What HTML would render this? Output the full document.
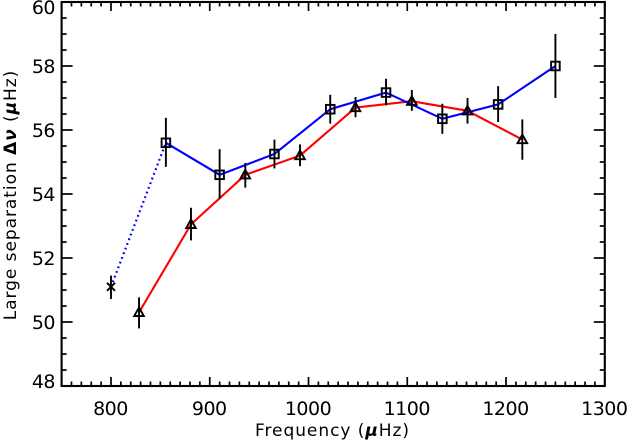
<!DOCTYPE html>
<html>
<head>
<meta charset="utf-8">
<title>Large separation vs frequency</title>
<style>
html,body{margin:0;padding:0;background:#fff;width:627px;height:442px;overflow:hidden}
svg{display:block}
text{font-family:"DejaVu Sans","Liberation Sans",sans-serif;fill:#000}
</style>
</head>
<body>
<svg id="chart" width="627" height="442" viewBox="0 0 627 442" xmlns="http://www.w3.org/2000/svg">
<text x="332.5" y="436" font-size="17" text-anchor="middle" letter-spacing="0.95">Frequency (<tspan font-weight="bold" font-style="italic">μ</tspan>Hz)</text>
<text transform="translate(16,195) rotate(-90)" font-size="17" text-anchor="middle" letter-spacing="0.95">Large separation <tspan font-weight="bold">Δ</tspan><tspan font-weight="bold" font-style="italic">ν</tspan> (<tspan font-weight="bold" font-style="italic">μ</tspan>Hz)</text>
</svg>
<script>
var xTicks = [800, 900, 1000, 1100, 1200, 1300];
var yTicks = [48, 50, 52, 54, 56, 58, 60];

var squareFreq = [855.6, 910, 965.5, 1022, 1078.5, 1135.5, 1192, 1250];
var squareVal = [55.6, 54.6, 55.25, 56.65, 57.17, 56.35, 56.8, 58.0];
var squareErrLow = [54.85, 53.85, 54.8, 56.2, 56.77, 55.88, 56.25, 57.0];
var squareErrHigh = [56.38, 55.4, 55.7, 57.1, 57.6, 56.82, 57.37, 59.0];

var triangleFreq = [828.4, 881, 936, 991.4, 1047.6, 1104.6, 1161, 1216.5];
var triangleVal = [50.3, 53.05, 54.6, 55.2, 56.7, 56.9, 56.6, 55.7];
var triangleErrLow = [49.8, 52.55, 54.2, 54.87, 56.4, 56.6, 56.2, 55.07];
var triangleErrHigh = [50.77, 53.57, 54.97, 55.55, 57.03, 57.25, 57.0, 56.33];

var crossFreq = [800];
var crossVal = [51.1];
var crossErrLow = [50.72];
var crossErrHigh = [51.45];

var svg = document.getElementById('chart');
var NS = 'http://www.w3.org/2000/svg';
var L = 61.6, R = 604.8, T = 2, B = 386;

function X(v) { return L + (v - 750) * (R - L) / 550; }
function Y(v) { return B - (v - 48) * (B - T) / 12; }

function make(tag, attrs, parent) {
  var el = document.createElementNS(NS, tag);
  for (var k in attrs) { el.setAttribute(k, attrs[k]); }
  (parent || svg).appendChild(el);
  return el;
}
function seg(x1, y1, x2, y2, w, parent) {
  return make('line', {x1: x1, y1: y1, x2: x2, y2: y2, stroke: '#000', 'stroke-width': w}, parent);
}
function polyPoints(xs, ys) {
  return xs.map(function (v, i) { return X(v) + ',' + Y(ys[i]); }).join(' ');
}

// Frame
var frame = make('rect', {x: L, y: T, width: R - L, height: B - T, fill: 'none', stroke: '#000', 'stroke-width': 2.1});



// X ticks
var xAxisGroup = make('g', {});


for (var f = 750; f <= 1300; f += 10) {
  var isMajorX = f % 100 === 0;
  var lenX = isMajorX ? 9 : 4.5;
  seg(X(f), B, X(f), B - lenX, 1.7, xAxisGroup);
  seg(X(f), T, X(f), T + lenX, 1.7, xAxisGroup);
}
xTicks.forEach(function (t) {
  var lab = make('text', {x: X(t) - 0.5, y: 415, 'font-size': 19, 'letter-spacing': -0.5, 'text-anchor': 'middle'});
  lab.textContent = t;
  
  
});

// Y ticks
var yAxisGroup = make('g', {});


for (var g = 48; g <= 60; g += 0.5) {
  var isMajorY = g % 2 === 0;
  var lenY = isMajorY ? 11 : 5;
  seg(L, Y(g), L + lenY, Y(g), 1.7, yAxisGroup);
  seg(R, Y(g), R - lenY, Y(g), 1.7, yAxisGroup);
}
yTicks.forEach(function (t) {
  var lab = make('text', {x: 55, y: Y(t) + 7, 'font-size': 19, 'letter-spacing': -0.5, 'text-anchor': 'end'});
  if (t === 60) { lab.setAttribute('y', 14); }
  if (t === 48) { lab.setAttribute('y', 388); }
  lab.textContent = t;
  
  
});

// Series lines
var dotted = make('line', {x1: X(crossFreq[0]), y1: Y(crossVal[0]), x2: X(squareFreq[0]), y2: Y(squareVal[0]), stroke: '#0000ff', 'stroke-width': 2.2, 'stroke-dasharray': '1.8 3.2'});



var redLine = make('polyline', {points: polyPoints(triangleFreq, triangleVal), fill: 'none', stroke: '#ff0000', 'stroke-width': 2.1});



var blueLine = make('polyline', {points: polyPoints(squareFreq, squareVal), fill: 'none', stroke: '#0000ff', 'stroke-width': 2.1});



// Error bars and markers
squareFreq.forEach(function (v, i) {
  var grp = make('g', {});
  
  
  seg(X(v), Y(squareErrLow[i]), X(v), Y(squareErrHigh[i]), 1.9, grp);
  make('rect', {x: X(v) - 4.3, y: Y(squareVal[i]) - 4.3, width: 8.6, height: 8.6, fill: 'none', stroke: '#000', 'stroke-width': 1.9}, grp);
});

triangleFreq.forEach(function (v, i) {
  var grp = make('g', {});
  
  
  var cx = X(v), cy = Y(triangleVal[i]);
  seg(cx, Y(triangleErrLow[i]), cx, Y(triangleErrHigh[i]), 1.9, grp);
  make('polygon', {points: (cx - 4.8) + ',' + (cy + 3.6) + ' ' + (cx + 4.8) + ',' + (cy + 3.6) + ' ' + cx + ',' + (cy - 5), fill: 'none', stroke: '#000', 'stroke-width': 1.9}, grp);
});

crossFreq.forEach(function (v, i) {
  var grp = make('g', {});
  
  
  var cx = X(v), cy = Y(crossVal[i]);
  seg(cx, Y(crossErrLow[i]), cx, Y(crossErrHigh[i]), 1.9, grp);
  seg(cx - 4, cy - 4, cx + 4, cy + 4, 1.9, grp);
  seg(cx - 4, cy + 4, cx + 4, cy - 4, 1.9, grp);
});
</script>
</body>
</html>
